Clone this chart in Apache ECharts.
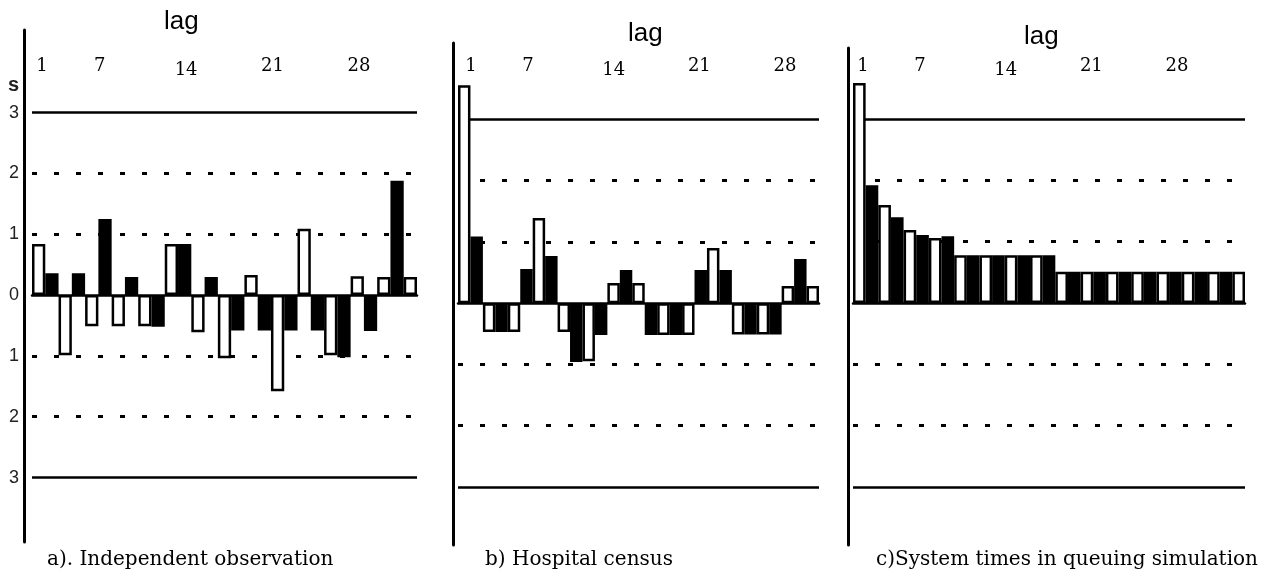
<!DOCTYPE html>
<html>
<head>
<meta charset="utf-8">
<script src="https://cdn.jsdelivr.net/npm/echarts@6/dist/echarts.min.js"></script>
<style>html,body{margin:0;padding:0;background:#fff}</style>
</head>
<body>
<div id="main" style="width:1266px;height:577px"></div>
<script type="text/javascript">
    // autocorrelation of each lag, in standard errors
    var acfIndependent = [0.84, 0.36, -0.99, 0.36, -0.51, 1.25, -0.51, 0.30, -0.51, -0.52,
        0.84, 0.84, -0.61, 0.30, -1.04, -0.58, 0.33, -0.58, -1.58, -0.58,
        1.09, -0.58, -0.99, -1.02, 0.31, -0.59, 0.30, 1.88, 0.30];
    var acfHospital = [3.56, 1.09, -0.47, -0.47, -0.47, 0.56, 1.39, 0.77, -0.47, -0.96,
        -0.95, -0.52, 0.33, 0.54, 0.33, -0.52, -0.52, -0.52, -0.52, 0.54,
        0.90, 0.54, -0.51, -0.51, -0.51, -0.51, 0.28, 0.72, 0.28];
    var acfQueue = [3.59, 1.92, 1.60, 1.40, 1.19, 1.11, 1.06, 1.09, 0.78, 0.78,
        0.78, 0.78, 0.78, 0.78, 0.78, 0.78, 0.51, 0.51, 0.51, 0.51,
        0.51, 0.51, 0.51, 0.51, 0.51, 0.51, 0.51, 0.51, 0.51, 0.51, 0.51];

    // s axis ticks and the reference lines
    var sTicks = [-3, -2, -1, 0, 1, 2, 3];
    var solidLimits = [3, -3];
    var dottedLimits = [2, 1, -1, -2];

    // lag labels across the top (blanks are spacer slots)
    var lagLabels = ['1', '', '7', '', '', '14', '', '', '21', '', '', '28'];
    var captions = ['a). Independent observation', 'b) Hospital census', 'c)System times in queuing simulation'];

    var panels = [
        {data: acfIndependent, left: 32, width: 385, top: 30, height: 512, min: -4.06, max: 4.36, offset: 8, showS: true,
            labelLeft: 42, labelWidth: 317, lagLeft: 164, lagTop: 9, capLeft: 47},
        {data: acfHospital, left: 458, width: 361, top: 43, height: 502, min: -3.95, max: 4.25, offset: 5, showS: false,
            labelLeft: 471, labelWidth: 314, lagLeft: 628, lagTop: 21, capLeft: 485},
        {data: acfQueue, left: 853, width: 392, top: 48, height: 497, min: -3.95, max: 4.16, offset: 5, showS: false,
            labelLeft: 863, labelWidth: 314, lagLeft: 1024, lagTop: 24, capLeft: 876}
    ];

    var sans = 'Liberation Sans, Arial, sans-serif';
    var serif = 'DejaVu Serif, Liberation Serif, serif';

    var grid = [], xAxis = [], yAxis = [], series = [], title = [];

    panels.forEach(function (p, i) {
        // bar grid
        grid.push({left: p.left, width: p.width, top: p.top, height: p.height});
        xAxis.push({
            type: 'category', gridIndex: i,
            data: p.data.map(function (v, k) { return String(k + 1); }),
            axisLine: {onZero: true, lineStyle: {color: '#000', width: 2.5}},
            axisTick: {show: false}, axisLabel: {show: false}
        });
        yAxis.push({
            type: 'value', gridIndex: i, min: p.min, max: p.max, offset: p.offset,
            axisLine: {show: true, onZero: false, lineStyle: {color: '#000', width: 3}},
            axisTick: {show: false}, splitLine: {show: false},
            axisLabel: {
                show: p.showS, customValues: sTicks, margin: 5,
                color: '#222', fontFamily: sans, fontSize: 18,
                formatter: function (v) { return String(Math.abs(v)); }
            }
        });

        var lines = [];
        solidLimits.forEach(function (v) {
            lines.push({yAxis: v, lineStyle: {type: 'solid', width: 2.5, color: '#000'}});
        });
        dottedLimits.forEach(function (v) {
            lines.push({yAxis: v, lineStyle: {type: [5, 17], width: 3, color: '#000'}});
        });

        series.push({
            type: 'bar', xAxisIndex: i, yAxisIndex: i, data: p.data, z: 3,
            barCategoryGap: '0%', barGap: 0,
            itemStyle: {
                color: function (params) { return params.dataIndex % 2 === 0 ? '#fff' : '#000'; },
                borderColor: '#000', borderWidth: 2.5
            },
            markLine: {silent: true, z: 1, symbol: 'none', label: {show: false}, animation: false, data: lines}
        });

        title.push({text: 'lag', left: p.lagLeft, top: p.lagTop, padding: 0,
            textStyle: {fontFamily: sans, fontSize: 26, fontWeight: 'normal', color: '#000'}});
        title.push({text: captions[i], left: p.capLeft, top: 550, padding: 0,
            textStyle: {fontFamily: serif, fontSize: 20, fontWeight: 'normal', color: '#000'}});
    });

    // lag label rulers across the top
    panels.forEach(function (p, i) {
        var g = grid.length;
        grid.push({left: p.labelLeft, width: p.labelWidth, top: 81, height: 10});
        xAxis.push({
            type: 'category', gridIndex: g, position: 'top', boundaryGap: false, data: lagLabels,
            axisLine: {show: false}, axisTick: {show: false},
            axisLabel: {
                interval: 0, margin: 2, color: '#000', fontFamily: serif, fontSize: 18,
                formatter: function (v) { return v === '14' ? '{lo|' + v + '}' : '{hi|' + v + '}'; },
                rich: {hi: {padding: [0, 0, 4, 0]}, lo: {padding: [0, 0, 0, 0]}}
            }
        });
        yAxis.push({type: 'value', gridIndex: g, show: false});
    });

    title.push({text: 's', left: 8, top: 75, padding: 0,
        textStyle: {fontFamily: sans, fontSize: 20, fontWeight: 'bold', color: '#222'}});

    var myChart = echarts.init(document.getElementById('main'));
    myChart.setOption({
        animation: false,
        backgroundColor: '#fff',
        title: title,
        grid: grid,
        xAxis: xAxis,
        yAxis: yAxis,
        series: series
    });
</script>
</body>
</html>
